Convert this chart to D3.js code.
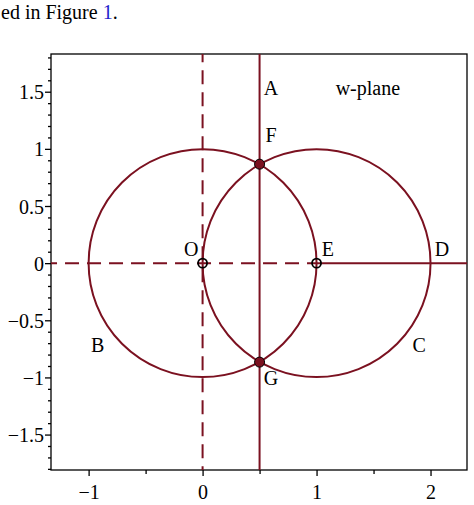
<!DOCTYPE html>
<html><head><meta charset="utf-8">
<script src="https://cdn.jsdelivr.net/npm/d3@7"></script>
<style>body{margin:0;background:#fff}text{font-family:"Liberation Serif",serif}</style>
</head><body><svg id="c" width="474" height="505"></svg>
<script>
const xMajor=[-1,0,1,2];
const xMinor=[-0.5,0.5,1.5];
const yMajor=[-1.5,-1,-0.5,0,0.5,1,1.5];
const circleCenters=[[0,0],[1,0]];
const circleRadius=1;
const filledPts=[[0.5,Math.sqrt(3)/2],[0.5,-Math.sqrt(3)/2]];
const openPts=[[0,0],[1,0]];
const labels=[["A",0.6,1.47],["w-plane",1.45,1.47],["F",0.6,1.06],["O",-0.1,0.06],["E",1.1,0.06],["D",2.1,0.06],["B",-0.92,-0.78],["C",1.9,-0.78],["G",0.6,-1.07]];
const col="#7b1120";
const FS=20;
const svg=d3.select("#c");
const x=d3.scaleLinear().domain([-1.33,2.32]).range([51,467]);
const y=d3.scaleLinear().domain([-1.81,1.83]).range([470,54]);
svg.append("rect").attr("x",51).attr("y",54).attr("width",416).attr("height",416).attr("fill","none").attr("stroke","#000").attr("stroke-width",1.3);
const t=svg.append("text").attr("x",1).attr("y",19).attr("font-size",FS);
t.append("tspan").text("ed in Figure ");t.append("tspan").attr("fill","#2222cc").text("1");t.append("tspan").text(".");
const ax=d3.axisBottom(x).tickValues(xMajor).tickSize(6).tickFormat(d=>d<0?"\u2212"+(-d):d);
const gx=svg.append("g").attr("transform","translate(0,470)").call(ax);
gx.append("g").call(d3.axisBottom(x).tickValues(xMinor).tickSize(4).tickFormat(""));
const yMin=d3.range(-18,19).map(i=>i/10).filter(v=>Math.abs(v*2-Math.round(v*2))>1e-6);
const ay=d3.axisLeft(y).tickValues(yMajor).tickSize(6).tickFormat(d=>d<0?"\u2212"+(-d):d);
const gy=svg.append("g").attr("transform","translate(51,0)").call(ay);
gy.append("g").call(d3.axisLeft(y).tickValues(yMin).tickSize(3).tickFormat(""));
[gx,gy].forEach(g=>{g.attr("font-size",FS).attr("font-family","Liberation Serif");g.selectAll(".domain").remove();g.selectAll("text").attr("fill","#000");g.selectAll("line").attr("stroke","#000").attr("stroke-width",1.3);});
gx.selectAll("text").attr("dy","1.0em");
gy.selectAll("text").attr("dy","0.35em").attr("x",-7);
svg.append("clipPath").attr("id","cl").append("rect").attr("x",51).attr("y",54).attr("width",416).attr("height",416);
const g=svg.append("g").attr("clip-path","url(#cl)");
const ln=(x1,y1,x2,y2,dash)=>g.append("line").attr("x1",x(x1)).attr("y1",y(y1)).attr("x2",x(x2)).attr("y2",y(y2)).attr("stroke",col).attr("stroke-width",2).attr("stroke-dasharray",dash?"14,8":null);
ln(-1.4,0,1,0,true);ln(1,0,2.4,0,false);ln(0,-1.9,0,1.9,true);ln(0.5,-1.9,0.5,1.9,false);
circleCenters.forEach(c=>g.append("circle").attr("cx",x(c[0])).attr("cy",y(c[1])).attr("r",x(circleRadius)-x(0)).attr("fill","none").attr("stroke",col).attr("stroke-width",2));
filledPts.forEach(p=>g.append("circle").attr("cx",x(p[0])).attr("cy",y(p[1])).attr("r",5).attr("fill",col).attr("stroke","#000").attr("stroke-width",1));
openPts.forEach(p=>g.append("circle").attr("cx",x(p[0])).attr("cy",y(p[1])).attr("r",4.5).attr("fill","none").attr("stroke","#000").attr("stroke-width",1.8));
labels.forEach(l=>svg.append("text").attr("x",x(l[1])).attr("y",y(l[2])).attr("text-anchor","middle").attr("font-size",FS).text(l[0]));
</script></body></html>
